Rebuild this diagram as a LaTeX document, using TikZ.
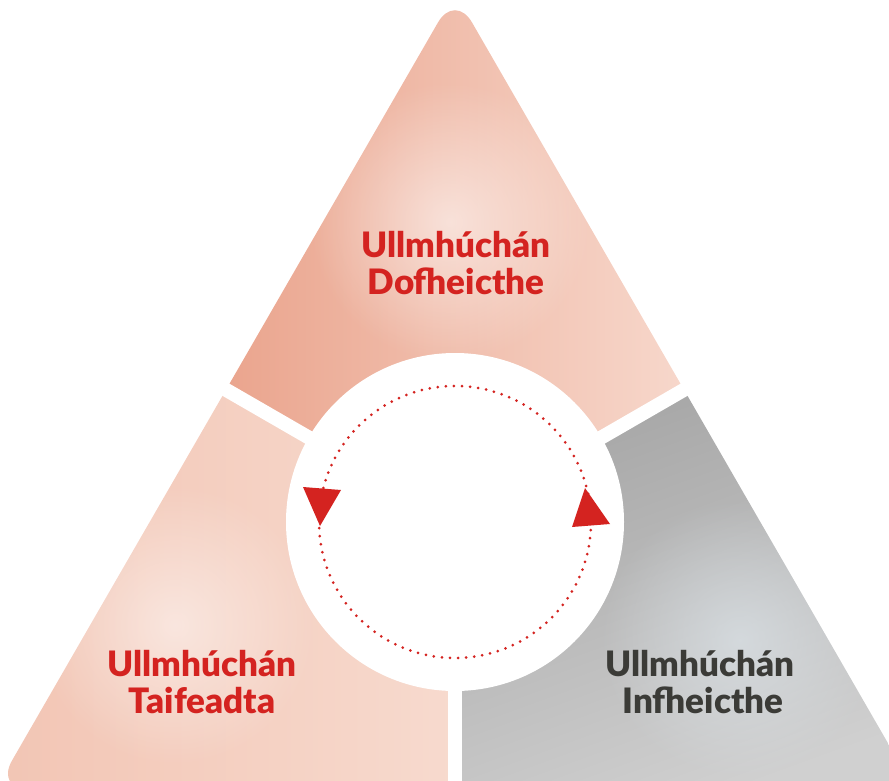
\documentclass[tikz,border=0pt]{standalone}
\usepackage{fontspec}
\setmainfont{Lato}
\IfFontExistsTF{Lato Black}{\newfontfamily\lblfont{Lato Black}}{%
  \IfFontExistsTF{Lato Heavy}{\newfontfamily\lblfont{Lato Heavy}}{\newfontfamily\lblfont{Lato}[UprightFont=*-Bold]}}
\usetikzlibrary{fadings}
\definecolor{redtxt}{HTML}{D42320}
\definecolor{graytxt}{HTML}{3B3B37}
\definecolor{topdark}{HTML}{EAA48D}
\definecolor{toplight}{HTML}{F7D8CC}
\definecolor{leftdark}{HTML}{F2C5B4}
\definecolor{leftlight}{HTML}{F7DACE}
\definecolor{rightdark}{HTML}{A5A5A5}
\definecolor{rightlight}{HTML}{D0D0D0}
\definecolor{rightglow}{HTML}{DCE3E8}
\tikzfading[name=glow, inner color=transparent!0, outer color=transparent!100]
\tikzset{
  lbl/.style={font=\fontsize{35}{38}\selectfont\lblfont, inner sep=0pt, anchor=base},
  gap/.style={white, line width=14pt},
}
\begin{document}
\begin{tikzpicture}[x=1pt,y=-1pt]
\useasboundingbox (0,0) rectangle (889,781);
\coordinate (O) at (455,522);
\coordinate (gl) at (22,272);
\coordinate (gr) at (888,272);
\coordinate (gb) at (455,820);
\begin{scope}
  \clip[rounded corners=34pt] (455,-7) -- (915,790) -- (-5,790) -- cycle;
  % top piece
  \begin{scope}
    \clip (O) -- (gl) -- (22,-60) -- (888,-60) -- (gr) -- cycle;
    \shade[left color=topdark, right color=toplight] (220,-10) rectangle (690,440);
    \fill[white, opacity=0.55, path fading=glow] (450,222) circle (140);
  \end{scope}
  % left piece
  \begin{scope}
    \clip (O) -- (gl) -- (-60,272) -- (-60,820) -- (gb) -- cycle;
    \shade[left color=leftdark, right color=leftlight] (-5,380) rectangle (455,790);
    \fill[white, opacity=0.5, path fading=glow] (175,625) circle (140);
  \end{scope}
  % right piece
  \begin{scope}
    \clip (O) -- (gr) -- (960,272) -- (960,820) -- (gb) -- cycle;
    \shade[top color=rightdark, bottom color=rightlight, shading angle=20] (455,380) rectangle (915,790);
    \fill[rightglow, opacity=0.7, path fading=glow] (740,640) circle (140);
  \end{scope}
\end{scope}
% white gaps and centre disc
\draw[gap] (O) -- (gl);
\draw[gap] (O) -- (gr);
\draw[gap] (O) -- (gb);
\fill[white] (O) circle (169);
% dotted cycle
\draw[redtxt, line width=3pt, line cap=round, dash pattern=on 0pt off 8.1pt] (O) circle (136);
\coordinate (la1) at (303,487);
\coordinate (la2) at (341,490);
\coordinate (la3) at (320,526);
\coordinate (ra1) at (572,527);
\coordinate (ra2) at (610,524);
\coordinate (ra3) at (585,488);
\fill[redtxt] (la1) -- (la2) -- (la3) -- cycle;
\fill[redtxt] (ra1) -- (ra2) -- (ra3) -- cycle;
% labels
\node[lbl, text=redtxt] (d1) at (456,257) {Ullmhúchán};
\node[lbl, text=redtxt] (d2) at (456,294) {Dofheicthe};
\node[lbl, text=redtxt] (t1) at (202,676) {Ullmhúchán};
\node[lbl, text=redtxt] (t2) at (202,713) {Taifeadta};
\node[lbl, text=graytxt] (i1) at (700,676) {Ullmhúchán};
\node[lbl, text=graytxt] (i2) at (703,713) {Infheicthe};
\end{tikzpicture}
\end{document}
